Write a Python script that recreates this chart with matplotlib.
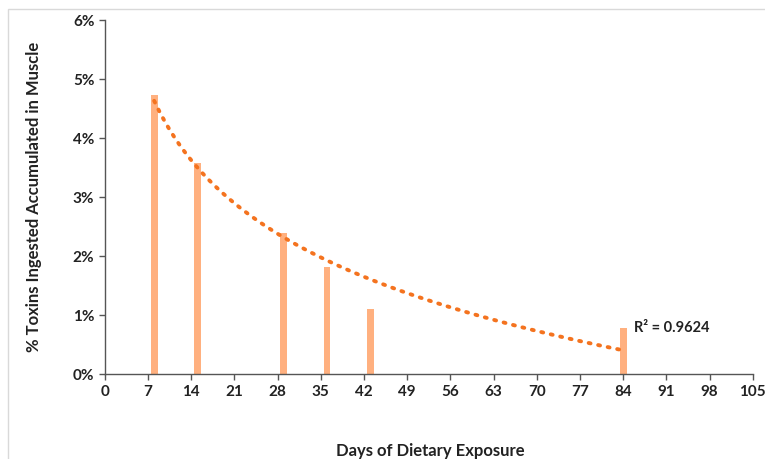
import matplotlib.pyplot as plt
import numpy as np
from matplotlib.patches import Rectangle
from matplotlib.ticker import FuncFormatter, MultipleLocator

plt.rcParams['font.family'] = ['Lato', 'DejaVu Sans']
plt.rcParams['font.weight'] = 'bold'

days = [8, 15, 29, 36, 43, 84]
pct_muscle = [4.73, 3.58, 2.39, 1.81, 1.10, 0.78]
r2_label = 'R² = 0.9624'

BAR_COLOR = '#FFB07F'
TREND_COLOR = '#F4731F'


def main():
    fig = plt.figure(figsize=(7.65, 4.59), dpi=100)
    ax = fig.add_axes([0.137, 0.185, 0.847, 0.771])

    ax.bar(days, pct_muscle, width=1.1, color=BAR_COLOR, zorder=2)

    # logarithmic trendline fitted to the bars
    x = np.array(days, dtype=float)
    b, a = np.polyfit(np.log(x), pct_muscle, 1)
    xs = np.linspace(x.min(), x.max(), 300)
    ax.plot(xs, a + b * np.log(xs), color=TREND_COLOR, lw=2.8,
            linestyle=(0, (0.5, 2.0)), dash_capstyle='round', zorder=3)

    ax.text(85.8, 0.78, r2_label, fontsize=10.5, fontweight='bold',
            va='center', ha='left', color='#222222')

    ax.set_xlim(0, 105)
    ax.set_ylim(0, 6)
    ax.xaxis.set_major_locator(MultipleLocator(7))
    ax.yaxis.set_major_locator(MultipleLocator(1))
    ax.yaxis.set_major_formatter(FuncFormatter(lambda v, p: f'{v:.0f}%'))

    for s in ['top', 'right']:
        ax.spines[s].set_visible(False)
    for s in ['left', 'bottom']:
        ax.spines[s].set_color('#555555')
        ax.spines[s].set_linewidth(1.0)
    ax.tick_params(axis='both', direction='out', length=4, width=1,
                   color='#555555', labelsize=11, labelcolor='#222222')
    for lbl in ax.get_xticklabels() + ax.get_yticklabels():
        lbl.set_fontweight('bold')

    ax.set_ylabel('% Toxins Ingested Accumulated in Muscle', fontsize=12,
                  fontweight='bold', color='#222222', labelpad=22)
    fig.text(0.562, 0.0, 'Days of Dietary Exposure', fontsize=12,
             fontweight='bold', ha='center', va='bottom', color='#222222')

    fig.patches.append(Rectangle((0.010, -0.01), 0.995, 0.99, transform=fig.transFigure,
                                 fill=False, edgecolor='#d9d9d9', lw=1.0))

    fig.savefig('out.png', dpi=100)


if __name__ == "__main__":
    main()
